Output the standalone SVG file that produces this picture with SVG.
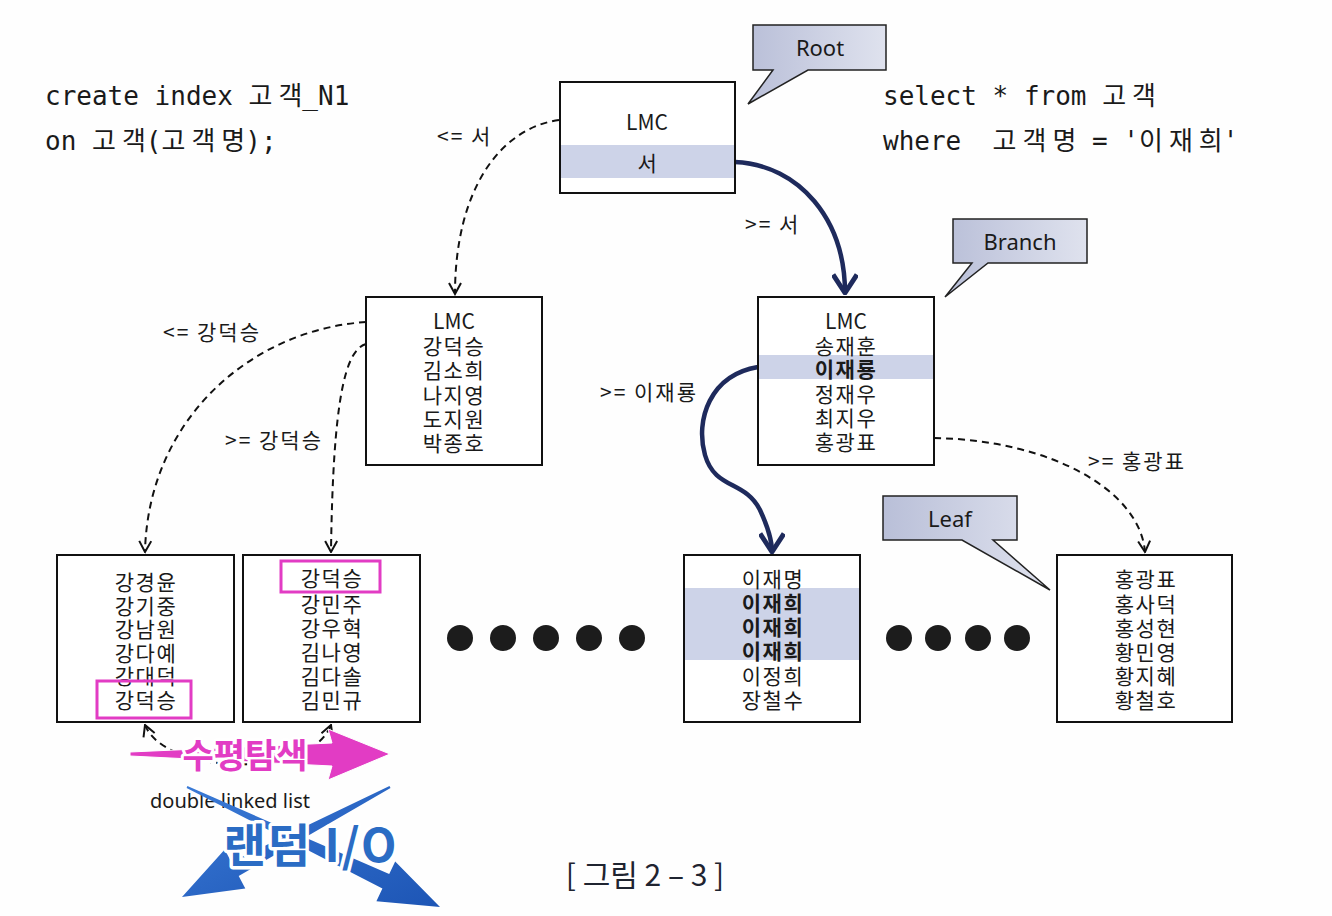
<svg xmlns="http://www.w3.org/2000/svg" width="1332" height="916" viewBox="0 0 1332 916">
<defs>
<style>
.box{fill:#fff;stroke:#111;stroke-width:2}
.band{fill:#cdd3e8}
.nt{font-family:"Noto Sans CJK KR","Noto Sans",sans-serif;font-size:21px;letter-spacing:1.5px;fill:#1a1a1a;text-anchor:middle;dominant-baseline:central}
.lmc{letter-spacing:0}
.b{font-weight:bold}
.lbl{font-family:"Noto Sans CJK KR","Noto Sans",sans-serif;font-size:21px;letter-spacing:2px;fill:#1a1a1a}
.dll{font-family:"Noto Sans","Noto Sans CJK KR",sans-serif;font-size:20px;fill:#1a1a1a;text-anchor:middle}
.code{font-family:"DejaVu Sans Mono","Noto Sans CJK KR",monospace;font-size:26px;fill:#1a1a1a}
.k{letter-spacing:6px}
.co{fill:url(#cg);stroke:#222;stroke-width:1.5}
.cot{font-family:"Noto Sans","Noto Sans CJK KR",sans-serif;font-size:22px;fill:#1a1a1a;text-anchor:middle;dominant-baseline:central}
.dash{fill:none;stroke:#111;stroke-width:2;stroke-dasharray:7 5}
.navy{fill:none;stroke:#1e2a5c;stroke-width:4.5}
.mag{fill:#e23cc4;stroke:#fff;stroke-width:1}
.hl{fill:none;stroke:#e23cc4;stroke-width:3}
.dot{fill:#1c1c1c}
</style>
<linearGradient id="cg" x1="0" y1="0" x2="1" y2="0">
<stop offset="0" stop-color="#b9bfd8"/>
<stop offset="1" stop-color="#dfe2ee"/>
</linearGradient>
<linearGradient id="bg" x1="0" y1="0" x2="1" y2="1">
<stop offset="0" stop-color="#3a7ad6"/>
<stop offset="1" stop-color="#1d55b5"/>
</linearGradient>
<marker id="oa" viewBox="-1 -7 13 14" refX="11" refY="0" markerWidth="14" markerHeight="14" markerUnits="userSpaceOnUse" orient="auto-start-reverse">
<path d="M0,-6 L11,0 L0,6" fill="none" stroke="#111" stroke-width="2"/>
</marker>
<marker id="na" viewBox="-1 -12 20 24" refX="17" refY="0" markerWidth="22" markerHeight="26" markerUnits="userSpaceOnUse" orient="auto">
<path d="M0,-11 L17,0 L0,11" fill="none" stroke="#1e2a5c" stroke-width="4.5" stroke-linejoin="round"/>
</marker>
</defs>
<rect width="1332" height="916" fill="#fefefe"/>

<g id="code-left">
<text class="code" x="45" y="105">create index <tspan class="k">고</tspan>객_N1</text>
<text class="code" x="45" y="150">on <tspan class="k">고</tspan>객(<tspan class="k">고객</tspan>명);</text>
</g>
<g id="code-right">
<text class="code" x="883" y="105">select * from <tspan class="k">고</tspan>객</text>
<text class="code" x="883" y="150" xml:space="preserve">where  <tspan class="k">고객</tspan>명 = '<tspan class="k">이재</tspan>희'</text>
</g>

<g id="connectors">
<path class="dash" d="M559,120 C500,128 455,190 455,294" marker-end="url(#oa)"/>
<path class="navy" d="M735,162 C800,165 845,220 845,293" marker-end="url(#na)"/>
<path class="dash" d="M366,322 C250,330 148,420 145,552" marker-end="url(#oa)"/>
<path class="dash" d="M366,344 C345,350 333,400 331,552" marker-end="url(#oa)"/>
<path class="navy" d="M758,367 C710,375 695,420 705,455 C715,490 745,480 760,510 C767,525 772,538 772,552" marker-end="url(#na)"/>
<path class="dash" d="M934,438 C1050,440 1140,490 1145,552" marker-end="url(#oa)"/>
<path class="dash" d="M145,725 C165,775 310,780 331,725" marker-start="url(#oa)" marker-end="url(#oa)"/>
<text class="lbl" x="437" y="144">&lt;= 서</text>
<text class="lbl" x="745" y="232">&gt;= 서</text>
<text class="lbl" x="163" y="340">&lt;= 강덕승</text>
<text class="lbl" x="225" y="448">&gt;= 강덕승</text>
<text class="lbl" x="600" y="400">&gt;= 이재룡</text>
<text class="lbl" x="1088" y="469">&gt;= 홍광표</text>
</g>

<g id="root">
<rect class="box" x="560" y="82" width="175" height="111"/>
<rect class="band" x="561" y="145" width="173" height="33"/>
<text class="nt lmc" x="647" y="121">LMC</text>
<text class="nt" x="648" y="162">서</text>
</g>
<g id="callout-root">
<path class="co" d="M753,25 H886 V70 H808 L748,104 L773,70 H753 Z"/>
<text class="cot" x="820" y="47">Root</text>
</g>

<g id="branch-left">
<rect class="box" x="366" y="297" width="176" height="168"/>
<text class="nt lmc" x="454" y="320">LMC</text>
<text class="nt" x="454" y="345">강덕승</text>
<text class="nt" x="454" y="369">김소희</text>
<text class="nt" x="454" y="394">나지영</text>
<text class="nt" x="454" y="418">도지원</text>
<text class="nt" x="454" y="442">박종호</text>
</g>

<g id="branch-right">
<rect class="box" x="758" y="297" width="176" height="168"/>
<rect class="band" x="759" y="355" width="174" height="24"/>
<text class="nt lmc" x="846" y="320">LMC</text>
<text class="nt" x="846" y="345">송재훈</text>
<text class="nt b" x="846" y="368">이재룡</text>
<text class="nt" x="846" y="393">정재우</text>
<text class="nt" x="846" y="417">최지우</text>
<text class="nt" x="846" y="441">홍광표</text>
</g>
<g id="callout-branch">
<path class="co" d="M953,219 H1087 V263 H988 L945,297 L972,263 H953 Z"/>
<text class="cot" x="1020" y="241">Branch</text>
</g>

<g id="leaf1">
<rect class="box" x="57" y="555" width="177" height="167"/>
<text class="nt" x="146" y="581">강경윤</text>
<text class="nt" x="146" y="605">강기중</text>
<text class="nt" x="146" y="628">강남원</text>
<text class="nt" x="146" y="652">강다예</text>
<text class="nt" x="146" y="675">강대덕</text>
<text class="nt" x="146" y="699">강덕승</text>
<rect class="hl" x="97" y="681" width="94" height="37"/>
</g>

<g id="leaf2">
<rect class="box" x="243" y="555" width="177" height="167"/>
<text class="nt" x="332" y="577">강덕승</text>
<text class="nt" x="332" y="603">강민주</text>
<text class="nt" x="332" y="627">강우혁</text>
<text class="nt" x="332" y="651">김나영</text>
<text class="nt" x="332" y="675">김다솔</text>
<text class="nt" x="332" y="699">김민규</text>
<rect class="hl" x="281" y="561" width="99" height="31"/>
</g>

<g id="dots-left">
<circle class="dot" cx="460" cy="638" r="13"/>
<circle class="dot" cx="503" cy="638" r="13"/>
<circle class="dot" cx="546" cy="638" r="13"/>
<circle class="dot" cx="589" cy="638" r="13"/>
<circle class="dot" cx="632" cy="638" r="13"/>
</g>

<g id="leaf3">
<rect class="box" x="684" y="555" width="176" height="167"/>
<rect class="band" x="685" y="588" width="174" height="72"/>
<text class="nt" x="773" y="578">이재명</text>
<text class="nt b" x="773" y="602">이재희</text>
<text class="nt b" x="773" y="626">이재희</text>
<text class="nt b" x="773" y="650">이재희</text>
<text class="nt" x="773" y="675">이정희</text>
<text class="nt" x="773" y="699">장철수</text>
</g>

<g id="dots-right">
<circle class="dot" cx="899" cy="638" r="13"/>
<circle class="dot" cx="938" cy="638" r="13"/>
<circle class="dot" cx="978" cy="638" r="13"/>
<circle class="dot" cx="1017" cy="638" r="13"/>
</g>

<g id="leaf4">
<rect class="box" x="1057" y="555" width="175" height="167"/>
<text class="nt" x="1146" y="578">홍광표</text>
<text class="nt" x="1146" y="603">홍사덕</text>
<text class="nt" x="1146" y="627">홍성현</text>
<text class="nt" x="1146" y="651">황민영</text>
<text class="nt" x="1146" y="675">황지혜</text>
<text class="nt" x="1146" y="699">황철호</text>
</g>
<g id="callout-leaf">
<path class="co" d="M883,496 H1017 V540 H993 L1050,590 L962,540 H883 Z"/>
<text class="cot" x="950" y="518">Leaf</text>
</g>

<g id="overlay-horizontal">
<path class="mag" d="M130,752 L332,743 L328,729 L390,754 L328,780 L332,766 L130,756 Z" stroke-linejoin="round"/>
<text x="245" y="768" text-anchor="middle" font-family="Noto Sans CJK KR, sans-serif" font-size="34" font-weight="bold" fill="#e23cc4" stroke="#fff" stroke-width="6" paint-order="stroke" stroke-linejoin="round">수평탐색</text>
</g>

<text class="dll" x="230" y="808">double linked list</text>

<g id="overlay-random">
<polygon fill="url(#bg)" points="187.4,786.1 389.2,874.1 395.2,861.4 440,907 376.4,901.2 382.4,888.5 186.6,787.9"/>
<polygon fill="url(#bg)" points="389.5,786.1 231.3,861.9 224.7,849.5 182,897 245.3,888.4 238.7,876 390.5,787.9"/>
<text x="311" y="862" text-anchor="middle" font-family="Noto Sans CJK KR, sans-serif" font-size="46" font-weight="bold" letter-spacing="2" fill="#2b6cc4" stroke="#fff" stroke-width="7" paint-order="stroke" stroke-linejoin="round">랜덤 I/O</text>
</g>

<text x="645" y="886" text-anchor="middle" font-family="Noto Sans CJK KR, sans-serif" font-size="30" fill="#1f2430">[ 그림 2 – 3 ]</text>
</svg>
